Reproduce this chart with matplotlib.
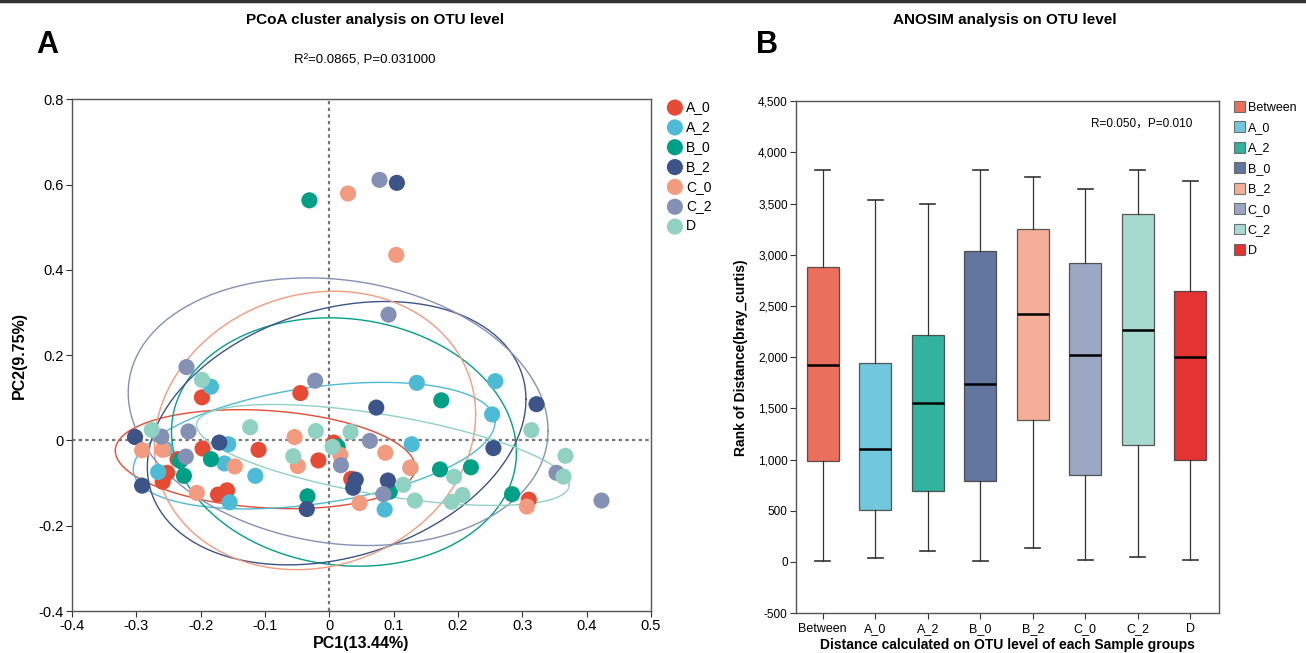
import numpy as np
import matplotlib
matplotlib.use('Agg')
import matplotlib.pyplot as plt
from matplotlib.patches import Patch
from matplotlib.lines import Line2D

plt.rcParams['font.family'] = ['Liberation Sans', 'Noto Sans CJK SC', 'DejaVu Sans']

# ---- PCoA data ----
groups = ['A_0', 'A_2', 'B_0', 'B_2', 'C_0', 'C_2', 'D']
group_colors = ['#E64B35', '#4DBBD5', '#00A087', '#3C5488', '#F39B7F', '#8491B4', '#91D1C2']

a0_x = [-0.198, -0.045, -0.197, -0.110, 0.007, -0.017, 0.034, -0.236, -0.252, -0.259, -0.173, -0.159, 0.310]
a0_y = [0.101, 0.111, -0.019, -0.022, -0.005, -0.047, -0.090, -0.044, -0.076, -0.097, -0.127, -0.117, -0.139]
a2_x = [-0.184, 0.136, 0.258, 0.253, 0.128, 0.126, 0.086, -0.157, -0.163, -0.115, -0.266, -0.155, -0.255]
a2_y = [0.126, 0.135, 0.139, 0.061, -0.009, -0.064, -0.162, -0.009, -0.054, -0.083, -0.074, -0.145, -0.020]
b0_x = [-0.031, 0.174, 0.013, 0.172, 0.220, 0.094, -0.034, 0.284, -0.232, -0.184, -0.226]
b0_y = [0.563, 0.094, -0.015, -0.068, -0.063, -0.120, -0.131, -0.126, -0.048, -0.044, -0.083]
b2_x = [0.105, 0.073, 0.322, 0.255, -0.302, -0.171, -0.291, 0.041, 0.037, 0.091, -0.035]
b2_y = [0.604, 0.077, 0.085, -0.018, 0.008, -0.005, -0.106, -0.092, -0.111, -0.094, -0.161]
c0_x = [0.029, 0.104, -0.054, -0.291, -0.259, -0.147, -0.206, -0.049, 0.017, 0.087, 0.126, 0.047, 0.307]
c0_y = [0.579, 0.435, 0.008, -0.023, -0.022, -0.061, -0.123, -0.060, -0.034, -0.029, -0.064, -0.147, -0.155]
c2_x = [0.078, 0.092, -0.222, -0.022, -0.261, -0.219, -0.223, 0.063, 0.018, 0.084, 0.353, 0.423]
c2_y = [0.611, 0.295, 0.172, 0.140, 0.009, 0.021, -0.038, -0.001, -0.058, -0.126, -0.076, -0.141]
d_x = [-0.198, -0.276, -0.123, -0.021, 0.033, 0.005, -0.056, 0.314, 0.367, 0.364, 0.194, 0.207, 0.190, 0.133, 0.115]
d_y = [0.142, 0.025, 0.031, 0.022, 0.020, -0.015, -0.037, 0.024, -0.036, -0.085, -0.085, -0.128, -0.144, -0.141, -0.104]

pcoa_x = [a0_x, a2_x, b0_x, b2_x, c0_x, c2_x, d_x]
pcoa_y = [a0_y, a2_y, b0_y, b2_y, c0_y, c2_y, d_y]

# ---- ANOSIM box stats ----
box_groups = ['Between', 'A_0', 'A_2', 'B_0', 'B_2', 'C_0', 'C_2', 'D']
box_colors = ['#E64B35', '#4DBBD5', '#00A087', '#3C5488', '#F39B7F', '#8491B4', '#91D1C2', '#DC0000']
whis_lo = [6, 36, 107, 10, 133, 23, 49, 19]
q1 = [984, 511, 689, 793, 1385, 851, 1142, 1000]
med = [1922, 1100, 1553, 1741, 2424, 2019, 2266, 2000]
q3 = [2881, 1948, 2214, 3040, 3253, 2920, 3402, 2648]
whis_hi = [3833, 3532, 3493, 3830, 3758, 3642, 3826, 3716]


def ellipse_xy(x, y, level=0.66, npts=120):
    # normal-theory ellipse from the sample covariance
    pts = np.column_stack([x, y])
    loc = pts.mean(axis=0)
    cov = np.cov(pts, rowvar=False)
    radius = np.sqrt(-2 * np.log(1 - level))
    chol = np.linalg.cholesky(cov).T
    ang = np.linspace(0, 2 * np.pi, npts)
    circ = np.column_stack([np.cos(ang), np.sin(ang)])
    return loc + radius * circ @ chol


fig = plt.figure(figsize=(13.06, 6.53), dpi=100)

# ---------------- Panel A ----------------
ax1 = fig.add_axes([0.0551, 0.0643, 0.4434, 0.7837])
ax1.axhline(0, color='#777777', ls=(0, (1.5, 1.5)), lw=1.6, zorder=1)
ax1.axvline(0, color='#777777', ls=(0, (1.5, 1.5)), lw=1.6, zorder=1)
for gx, gy, col in zip(pcoa_x, pcoa_y, group_colors):
    e = ellipse_xy(gx, gy)
    ax1.plot(e[:, 0], e[:, 1], color=col, lw=1.0, zorder=2)
for gx, gy, col, name in zip(pcoa_x, pcoa_y, group_colors, groups):
    ax1.scatter(gx, gy, s=135, color=col, edgecolors='none', zorder=3, label=name)
ax1.set_xlim(-0.4, 0.5)
ax1.set_ylim(-0.4, 0.8)
ax1.set_xticks(np.arange(-0.4, 0.51, 0.1))
ax1.set_xticklabels(['-0.4', '-0.3', '-0.2', '-0.1', '0', '0.1', '0.2', '0.3', '0.4', '0.5'])
ax1.set_yticks(np.arange(-0.4, 0.81, 0.2))
ax1.set_yticklabels(['-0.4', '-0.2', '0', '0.2', '0.4', '0.6', '0.8'])
ax1.tick_params(labelsize=10.5, length=4, width=0.8, color='#333333', pad=2)
for sp in ax1.spines.values():
    sp.set_color('#555555')
    sp.set_linewidth(1.0)
ax1.set_xlabel('PC1(13.44%)', fontsize=11.5, fontweight='bold', labelpad=2)
ax1.set_ylabel('PC2(9.75%)', fontsize=11.5, fontweight='bold', labelpad=8)
ax1.legend(loc='upper left', bbox_to_anchor=(0.504, 0.855), bbox_transform=fig.transFigure,
           frameon=False, fontsize=10, handletextpad=0.0, labelspacing=0.42,
           borderaxespad=0, handlelength=1.6, markerscale=1.0)

fig.text(0.036, 0.931, 'A', fontsize=22, fontweight='bold', ha='center', va='center')
fig.text(0.287, 0.969, 'PCoA cluster analysis on OTU level', fontsize=11, fontweight='bold',
         ha='center', va='center')
fig.text(0.2795, 0.908, 'R²=0.0865, P=0.031000', fontsize=9.5, ha='center', va='center')

# ---------------- Panel B ----------------
ax2 = fig.add_axes([0.6095, 0.061, 0.3239, 0.784])
stats = []
for i, name in enumerate(box_groups):
    stats.append(dict(label=name, whislo=whis_lo[i], q1=q1[i], med=med[i], q3=q3[i],
                      whishi=whis_hi[i], fliers=[]))
bp = ax2.bxp(stats, positions=np.arange(len(box_groups)), widths=0.61, patch_artist=True,
             showfliers=False,
             boxprops=dict(edgecolor='#333333', linewidth=0.9),
             medianprops=dict(color='black', linewidth=1.8),
             whiskerprops=dict(color='#333333', linewidth=0.9),
             capprops=dict(color='#333333', linewidth=1.2), capwidths=0.28)
for patch, col in zip(bp['boxes'], box_colors):
    patch.set_facecolor(col)
    patch.set_alpha(0.8)
    patch.set_edgecolor((0.2, 0.2, 0.2, 1))
ax2.set_xlim(-0.51, 7.55)
ax2.set_ylim(-500, 4500)
ax2.set_yticks(np.arange(-500, 4501, 500))
ax2.set_yticklabels([f'{v:,}' for v in range(-500, 4501, 500)])
ax2.tick_params(labelsize=8.5, length=4, width=0.8, color='#333333', pad=2)
ax2.tick_params(axis='x', labelsize=9, pad=3)
for sp in ax2.spines.values():
    sp.set_color('#555555')
    sp.set_linewidth(1.0)
ax2.set_xlabel('Distance calculated on OTU level of each Sample groups', fontsize=10,
               fontweight='bold', labelpad=2)
ax2.set_ylabel('Rank of Distance(bray_curtis)', fontsize=10, fontweight='bold', labelpad=7)
ax2.text(0.936, 0.957, 'R=0.050，P=0.010', transform=ax2.transAxes, fontsize=8.5,
         ha='right', va='center')
handles = [Patch(facecolor=c, alpha=0.8, edgecolor='#555555', linewidth=0.8) for c in box_colors]
ax2.legend(handles, box_groups, loc='upper left', bbox_to_anchor=(0.941, 0.853),
           bbox_transform=fig.transFigure, frameon=False, fontsize=9, handlelength=0.85,
           handleheight=0.95, handletextpad=0.25, labelspacing=0.62, borderaxespad=0)

fig.text(0.587, 0.931, 'B', fontsize=22, fontweight='bold', ha='center', va='center')
fig.text(0.7695, 0.969, 'ANOSIM analysis on OTU level', fontsize=11, fontweight='bold',
         ha='center', va='center')

fig.add_artist(Line2D([0, 1], [0.998, 0.998], transform=fig.transFigure, color='#333333', lw=2.5))

fig.savefig('out.png', dpi=100)
